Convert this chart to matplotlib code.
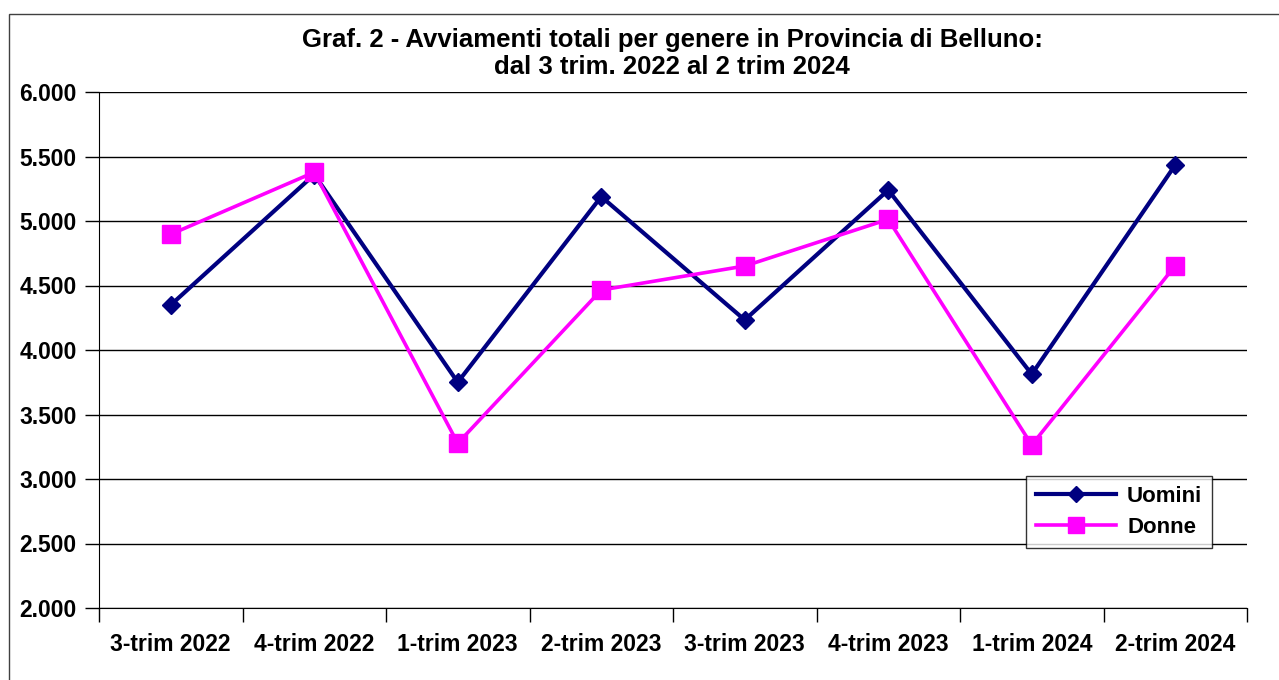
import matplotlib
matplotlib.use("Agg")
import matplotlib.pyplot as plt
from matplotlib.patches import Rectangle

categories = ["3-trim 2022", "4-trim 2022", "1-trim 2023", "2-trim 2023",
              "3-trim 2023", "4-trim 2023", "1-trim 2024", "2-trim 2024"]
uomini = [4349, 5360, 3750, 5189, 4233, 5240, 3812, 5434]
donne = [4897, 5378, 3277, 4465, 4651, 5013, 3264, 4654]
yticks = [2000, 2500, 3000, 3500, 4000, 4500, 5000, 5500, 6000]
ytick_labels = ["2.000", "2.500", "3.000", "3.500", "4.000", "4.500", "5.000", "5.500", "6.000"]
title_lines = ["Graf. 2 - Avviamenti totali per genere in Provincia di Belluno:",
               "dal 3 trim. 2022 al 2 trim 2024"]

plt.rcParams['font.family'] = ['Liberation Sans', 'DejaVu Sans']

W, H = 1279, 680
fig = plt.figure(figsize=(W / 100, H / 100), dpi=100)
fig.patches.append(Rectangle((9 / W, -0.1), 1.2, 1 - 14 / H + 0.1, transform=fig.transFigure,
                             fill=False, edgecolor='#404040', linewidth=1))
ax = fig.add_axes([99 / W, 1 - 608 / H, (1247 - 99) / W, (608 - 92) / H])

x = list(range(len(categories)))
ax.plot(x, uomini, color='#000080', linewidth=3, marker='D', markersize=9.5,
        label='Uomini', zorder=3)
ax.plot(x, donne, color='#FF00FF', linewidth=2.6, marker='s', markersize=13.5,
        label='Donne', zorder=4)

ax.set_xlim(-0.5, len(categories) - 0.5)
ax.set_ylim(2000, 6000)
ax.set_yticks(yticks)
ax.set_yticklabels(ytick_labels, fontsize=16.5, fontweight='bold')
ax.yaxis.grid(True, color='black', linewidth=1)
ax.set_axisbelow(True)

ax.set_xticks(x)
ax.set_xticklabels(categories, fontsize=16.5, fontweight='bold')
ax.set_xticks([i - 0.5 for i in range(len(categories) + 1)], minor=True)
ax.tick_params(axis='x', which='major', length=0, pad=18)
ax.tick_params(axis='x', which='minor', length=10, width=1, color='black')
ax.tick_params(axis='y', length=10, width=1, color='black', pad=6)

for s in ['top', 'right']:
    ax.spines[s].set_visible(False)
ax.spines['left'].set_color('black')
ax.spines['bottom'].set_color('black')

fig.text(672 / W, 1 - 40 / H, title_lines[0], ha='center', va='center',
         fontsize=18.5, fontweight='bold')
fig.text(672 / W, 1 - 67 / H, title_lines[1], ha='center', va='center',
         fontsize=18.5, fontweight='bold')

leg = ax.legend(loc='upper left', bbox_to_anchor=((1026 - 99) / (1247 - 99), 1 - (476 - 92) / 516),
                frameon=True, fancybox=False, edgecolor='black',
                prop={'weight': 'bold', 'size': 16}, borderpad=0.45, handlelength=3.6,
                handletextpad=0.5, borderaxespad=0, labelspacing=0.45, markerscale=0.85)
leg.get_frame().set_linewidth(1)

fig.savefig("out.png", dpi=100)
